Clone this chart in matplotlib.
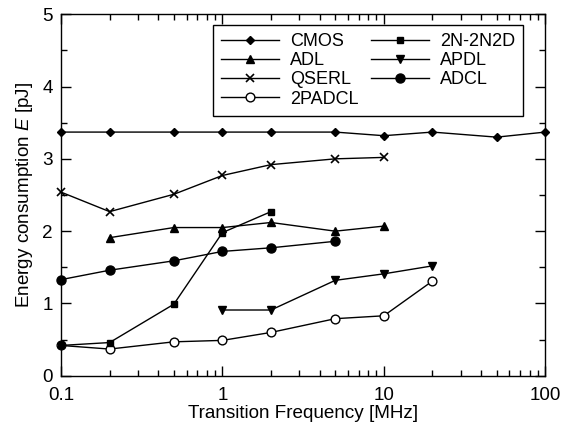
import matplotlib
matplotlib.use("Agg")
import matplotlib.pyplot as plt
from matplotlib.ticker import LogLocator, FuncFormatter, MultipleLocator

plt.rcParams['font.family'] = ['Liberation Sans', 'DejaVu Sans']
plt.rcParams['mathtext.fontset'] = 'custom'
plt.rcParams['mathtext.rm'] = 'Liberation Sans'
plt.rcParams['mathtext.it'] = 'Liberation Sans:italic'

# Data (frequency in MHz, energy in pJ)
cmos_f = [0.1, 0.2, 0.5, 1, 2, 5, 10, 20, 50, 100]
cmos_e = [3.37, 3.37, 3.37, 3.37, 3.37, 3.37, 3.32, 3.37, 3.30, 3.37]

adl_f = [0.2, 0.5, 1, 2, 5, 10]
adl_e = [1.91, 2.05, 2.05, 2.12, 2.00, 2.07]

qserl_f = [0.1, 0.2, 0.5, 1, 2, 5, 10]
qserl_e = [2.54, 2.27, 2.51, 2.77, 2.92, 3.00, 3.02]

padcl_f = [0.1, 0.2, 0.5, 1, 2, 5, 10, 20]
padcl_e = [0.42, 0.37, 0.47, 0.49, 0.60, 0.79, 0.83, 1.31]

n2d_f = [0.1, 0.2, 0.5, 1, 2]
n2d_e = [0.42, 0.46, 0.99, 1.98, 2.27]

apdl_f = [1, 2, 5, 10, 20]
apdl_e = [0.91, 0.91, 1.32, 1.41, 1.52]

adcl_f = [0.1, 0.2, 0.5, 1, 2, 5]
adcl_e = [1.33, 1.46, 1.59, 1.72, 1.77, 1.86]

fig = plt.figure(figsize=(5.65, 4.3), dpi=100)
ax = fig.add_axes([0.108, 0.126, 0.857, 0.841])

kw = dict(color='black', lw=1, mec='black', clip_on=False)
ax.plot(cmos_f, cmos_e, marker='D', ms=4.5, mfc='black', label='CMOS', **kw)
ax.plot(adl_f, adl_e, marker='^', ms=6, mfc='black', label='ADL', **kw)
ax.plot(qserl_f, qserl_e, marker='x', ms=6, mew=1.2, label='QSERL', **kw)
ax.plot(padcl_f, padcl_e, marker='o', ms=6.3, mfc='white', label='2PADCL', **kw)
ax.plot(n2d_f, n2d_e, marker='s', ms=4.8, mfc='black', label='2N-2N2D', **kw)
ax.plot(apdl_f, apdl_e, marker='v', ms=6, mfc='black', label='APDL', **kw)
ax.plot(adcl_f, adcl_e, marker='o', ms=6.5, mfc='black', label='ADCL', **kw)

ax.set_xscale('log')
ax.set_xlim(0.1, 100)
ax.set_ylim(0, 5)
ax.xaxis.set_major_locator(LogLocator(base=10, numticks=10))
ax.xaxis.set_minor_locator(LogLocator(base=10, subs=range(2, 10), numticks=20))
ax.xaxis.set_major_formatter(FuncFormatter(lambda v, p: '%g' % v))
ax.xaxis.set_minor_formatter(FuncFormatter(lambda v, p: ''))
ax.yaxis.set_major_locator(MultipleLocator(1))
ax.yaxis.set_minor_locator(MultipleLocator(0.5))

ax.tick_params(which='both', direction='in', top=True, right=True, labelsize=13.6, width=1)
ax.tick_params(which='major', length=7)
ax.tick_params(axis='x', which='major', pad=8)
ax.tick_params(axis='y', which='major', pad=6)
ax.tick_params(which='minor', length=4)
for s in ax.spines.values():
    s.set_linewidth(1)

ax.set_xlabel('Transition Frequency [MHz]', fontsize=13.6, labelpad=1)
ax.set_ylabel('Energy consumption $E$ [pJ]', fontsize=13.6, labelpad=5)

leg = ax.legend(ncol=2, loc='upper right', bbox_to_anchor=(0.954, 0.97), fontsize=13,
                fancybox=False, edgecolor='black', framealpha=1, handlelength=3.2,
                labelspacing=0.12, columnspacing=0.7, handletextpad=0.6,
                borderpad=0.45, borderaxespad=0)
leg.get_frame().set_linewidth(1)

fig.savefig('out.png', dpi=100)
